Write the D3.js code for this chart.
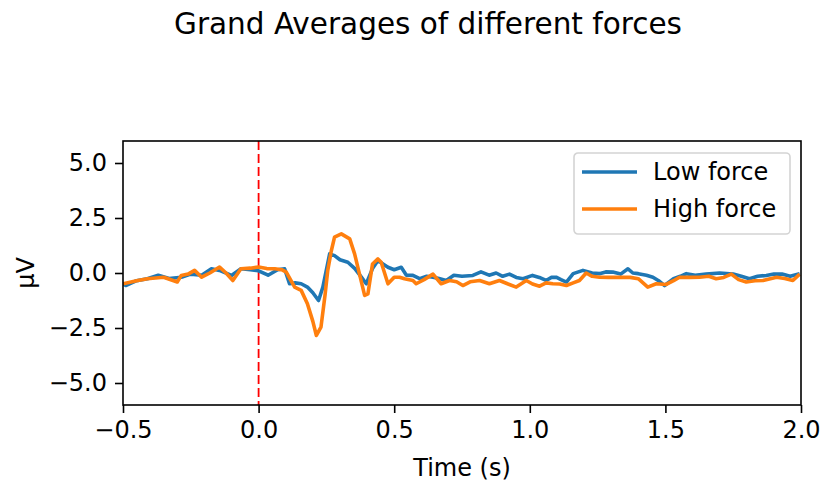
<!DOCTYPE html>
<html>
<head>
<meta charset="utf-8">
<script src="https://cdn.jsdelivr.net/npm/d3@7"></script>
<style>
  body { margin: 0; background: #fff; }
  svg text { font-family: "DejaVu Sans", sans-serif; fill: #000; }
</style>
</head>
<body>
<svg id="chart" width="821" height="481"></svg>
<script>
// time points (s) and grand averages (µV)
const lowTime = [-0.5, -0.49, -0.45, -0.41, -0.37, -0.33, -0.285, -0.25, -0.21, -0.174, -0.14, -0.10, -0.065, -0.03, 0, 0.035, 0.07, 0.096, 0.114, 0.135, 0.157, 0.18, 0.20, 0.221, 0.237, 0.262, 0.28, 0.30, 0.329, 0.355, 0.379, 0.397, 0.42, 0.44, 0.46, 0.477, 0.50, 0.526, 0.545, 0.569, 0.594, 0.62, 0.643, 0.665, 0.692, 0.72, 0.75, 0.79, 0.82, 0.85, 0.876, 0.90, 0.925, 0.95, 0.975, 1.01, 1.035, 1.06, 1.08, 1.097, 1.115, 1.135, 1.16, 1.196, 1.23, 1.257, 1.28, 1.306, 1.335, 1.362, 1.38, 1.40, 1.43, 1.454, 1.475, 1.497, 1.53, 1.555, 1.577, 1.61, 1.65, 1.70, 1.75, 1.78, 1.81, 1.84, 1.872, 1.90, 1.93, 1.96, 1.995];
const lowForce = [-0.5, -0.57, -0.35, -0.26, -0.1, -0.25, -0.19, -0.05, -0.1, 0.19, 0.1, -0.11, 0.19, 0.15, 0.1, -0.1, 0.15, 0.19, -0.49, -0.45, -0.49, -0.64, -0.9, -1.25, -0.64, 0.87, 0.79, 0.6, 0.49, 0.2, -0.19, -0.49, 0.2, 0.57, 0.4, 0.26, 0.15, 0.26, -0.1, -0.11, -0.26, -0.15, -0.19, -0.25, -0.34, -0.1, -0.15, -0.11, 0.05, -0.1, 0.0, -0.15, -0.05, -0.2, -0.26, -0.11, -0.2, -0.34, -0.2, -0.19, -0.3, -0.41, -0.03, 0.12, 0.0, -0.03, 0.05, 0.04, -0.05, 0.19, 0.0, -0.03, -0.1, -0.19, -0.35, -0.57, -0.26, -0.15, -0.03, -0.1, -0.05, 0.0, -0.05, -0.15, -0.26, -0.15, -0.11, -0.05, -0.05, -0.15, -0.03];

const highTime = [-0.5, -0.45, -0.41, -0.35, -0.30, -0.285, -0.26, -0.236, -0.21, -0.18, -0.144, -0.12, -0.095, -0.065, -0.03, 0, 0.03, 0.06, 0.085, 0.102, 0.133, 0.157, 0.18, 0.20, 0.213, 0.23, 0.245, 0.255, 0.268, 0.28, 0.305, 0.336, 0.354, 0.375, 0.391, 0.403, 0.42, 0.44, 0.452, 0.477, 0.50, 0.52, 0.538, 0.569, 0.581, 0.61, 0.643, 0.673, 0.704, 0.73, 0.753, 0.78, 0.815, 0.851, 0.888, 0.92, 0.95, 0.987, 1.01, 1.036, 1.06, 1.085, 1.11, 1.135, 1.16, 1.183, 1.208, 1.23, 1.257, 1.29, 1.33, 1.37, 1.40, 1.435, 1.466, 1.503, 1.53, 1.552, 1.59, 1.626, 1.66, 1.687, 1.715, 1.743, 1.77, 1.798, 1.83, 1.86, 1.91, 1.94, 1.97, 1.995];
const highForce = [-0.49, -0.35, -0.26, -0.19, -0.41, -0.11, -0.05, 0.12, -0.19, 0.0, 0.27, 0.0, -0.34, 0.19, 0.22, 0.27, 0.2, 0.19, 0.15, 0.04, -0.64, -0.79, -1.4, -2.2, -2.84, -2.46, -1.0, 0.12, 1.0, 1.63, 1.78, 1.55, 0.87, -0.2, -1.02, -0.95, 0.41, 0.64, 0.49, -0.49, -0.19, -0.19, -0.26, -0.34, -0.49, -0.3, -0.05, -0.49, -0.34, -0.4, -0.57, -0.4, -0.34, -0.49, -0.34, -0.5, -0.64, -0.34, -0.5, -0.6, -0.45, -0.49, -0.5, -0.57, -0.45, -0.34, 0.0, -0.15, -0.19, -0.2, -0.19, -0.2, -0.26, -0.64, -0.49, -0.52, -0.35, -0.19, -0.2, -0.19, -0.15, -0.26, -0.2, -0.05, -0.3, -0.41, -0.35, -0.34, -0.19, -0.25, -0.34, -0.05];

const xTicks = [-0.5, 0.0, 0.5, 1.0, 1.5, 2.0];
const yTicks = [-5.0, -2.5, 0.0, 2.5, 5.0];
const seriesNames = ["Low force", "High force"];
const seriesColors = ["#1f77b4", "#ff7f0e"];

const svg = d3.select("#chart");
const margin = { top: 141, right: 20, bottom: 76, left: 123 };
const width = +svg.attr("width") - margin.left - margin.right;
const height = +svg.attr("height") - margin.top - margin.bottom;

const x = d3.scaleLinear().domain([-0.5, 2.0]).range([margin.left, margin.left + width]);
const y = d3.scaleLinear().domain([-6, 6]).range([margin.top + height, margin.top]);

// Title
svg.append("text")
  .attr("x", 428)
  .attr("y", 34)
  .attr("text-anchor", "middle")
  .style("font-size", "29.5px")
  .text("Grand Averages of different forces");

// clip for the traces
svg.append("clipPath").attr("id", "plotClip")
  .append("rect")
  .attr("x", margin.left).attr("y", margin.top)
  .attr("width", width).attr("height", height);

// Axes
const fmt = d3.format(".1f");
const xAxis = svg.append("g")
  .attr("transform", `translate(0,${margin.top + height})`)
  .call(d3.axisBottom(x).tickValues(xTicks).tickFormat(fmt).tickSize(8).tickPadding(8));

const yAxis = svg.append("g")
  .attr("transform", `translate(${margin.left},0)`)
  .call(d3.axisLeft(y).tickValues(yTicks).tickFormat(fmt).tickSize(8).tickPadding(8));

[xAxis, yAxis].forEach(g => {
  g.select(".domain").remove();
  g.selectAll(".tick line").attr("stroke", "#000").attr("stroke-width", 1.6);
  g.selectAll(".tick text").style("font-size", "24px").attr("fill", "#000");
});

// Axis labels
svg.append("text")
  .attr("x", margin.left + width / 2)
  .attr("y", 476)
  .attr("text-anchor", "middle")
  .style("font-size", "24px")
  .text("Time (s)");

svg.append("text")
  .attr("transform", "rotate(-90)")
  .attr("x", -(margin.top + height / 2))
  .attr("y", 34)
  .attr("text-anchor", "middle")
  .style("font-size", "24px")
  .text("µV");

// Stimulus onset
svg.append("line")
  .attr("x1", x(0)).attr("x2", x(0))
  .attr("y1", margin.top).attr("y2", margin.top + height)
  .attr("stroke", "red")
  .attr("stroke-width", 1.8)
  .attr("stroke-dasharray", "9,4");

// Traces
const line = d3.line()
  .x(d => x(d[0]))
  .y(d => y(d[1]));

const series = [
  d3.zip(lowTime, lowForce),
  d3.zip(highTime, highForce)
];

series.forEach((pts, i) => {
  svg.append("path")
    .datum(pts)
    .attr("clip-path", "url(#plotClip)")
    .attr("fill", "none")
    .attr("stroke", seriesColors[i])
    .attr("stroke-width", 3.6)
    .attr("stroke-linejoin", "round")
    .attr("d", line);
});

// Frame
svg.append("rect")
  .attr("x", margin.left).attr("y", margin.top)
  .attr("width", width).attr("height", height)
  .attr("fill", "none")
  .attr("stroke", "#000")
  .attr("stroke-width", 1.6);

// Legend
const legend = svg.append("g").attr("transform", "translate(574,153)");
legend.append("rect")
  .attr("width", 216).attr("height", 81)
  .attr("rx", 4)
  .attr("fill", "#fff").attr("fill-opacity", 0.8)
  .attr("stroke", "#d4d4d4").attr("stroke-width", 1.6);

seriesNames.forEach((name, i) => {
  const yy = 19 + i * 37;
  legend.append("line")
    .attr("x1", 8).attr("x2", 63)
    .attr("y1", yy).attr("y2", yy)
    .attr("stroke", seriesColors[i])
    .attr("stroke-width", 3.6);
  legend.append("text")
    .attr("x", 79)
    .attr("y", yy + 8)
    .style("font-size", "24px")
    .text(name);
});
</script>
</body>
</html>
